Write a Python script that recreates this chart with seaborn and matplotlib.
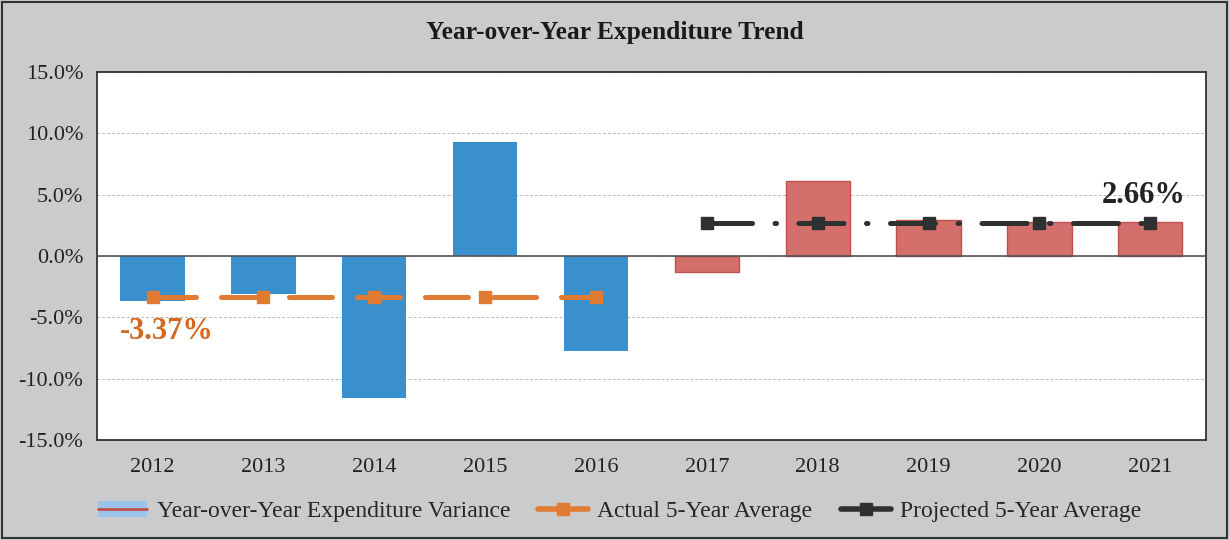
import matplotlib
matplotlib.use("Agg")
import matplotlib.pyplot as plt
import seaborn as sns
import pandas as pd
from matplotlib.patches import Patch
from matplotlib.lines import Line2D
from matplotlib.legend_handler import HandlerTuple
from matplotlib.ticker import FuncFormatter, MultipleLocator

years = ["2012", "2013", "2014", "2015", "2016", "2017", "2018", "2019", "2020", "2021"]
variance = [-3.7, -3.1, -11.6, 9.3, -7.75, -1.3, 6.1, 2.9, 2.8, 2.8]
period = ["Actual"] * 5 + ["Projected"] * 5
actual_avg = -3.37
projected_avg = 2.66

df = pd.DataFrame({"year": years, "variance": variance, "period": period})

sns.set_theme(style="white")
plt.rcParams["font.family"] = ["Liberation Serif", "DejaVu Serif"]

fig = plt.figure(figsize=(12.29, 5.40), dpi=100, facecolor="#c9cbcd")
ax = fig.add_axes([0.079, 0.185, 0.902, 0.682])
ax.set_facecolor("white")

blue, red = "#3a8fcd", "#d46f6c"
sns.barplot(data=df, x="year", y="variance", hue="period",
            palette={"Actual": blue, "Projected": red}, saturation=1,
            width=0.58, dodge=False, legend=False, ax=ax, linewidth=0)
for bar in ax.patches:
    if bar.get_facecolor()[0] > 0.5:
        bar.set_edgecolor("#c0504d")
        bar.set_linewidth(1.0)

# five-year averages
pos = {y: i for i, y in enumerate(years)}
act_x = [pos[y] for y in years[:5]]
proj_x = [pos[y] for y in years[5:]]
orange, dark = "#e07b33", "#2e3130"
ax.plot(act_x, [actual_avg] * 5, color=orange, lw=3.6, marker="s", ms=8,
        dashes=(8.6, 5), dash_capstyle="round", zorder=4)
ax.plot(proj_x, [projected_avg] * 5, color=dark, lw=3.6, marker="s", ms=8,
        dashes=(9, 4.5, 0.3, 4.5), dash_capstyle="round", zorder=4)

ax.text(act_x[0] + 0.13, actual_avg - 2.75, f"{actual_avg:.2f}%", color="#d2691e",
        fontsize=22, fontweight="bold", ha="center", va="center")
ax.text(proj_x[-1] - 0.06, projected_avg + 2.3, f"{projected_avg:.2f}%", color="#222222",
        fontsize=22, fontweight="bold", ha="center", va="center")

ax.set_xlim(-0.5, len(years) - 0.5)
ax.set_ylim(-15, 15)
ax.yaxis.set_major_locator(MultipleLocator(5))
ax.yaxis.set_major_formatter(FuncFormatter(lambda v, _: f"{v:.1f}%"))
ax.grid(axis="y", color="#bbbbbb", linestyle=(0, (3, 2)), linewidth=0.7)
ax.axhline(0, color="#555555", linewidth=1.2, zorder=3)
ax.set_xlabel("")
ax.set_ylabel("")
ax.tick_params(axis="both", labelsize=16, colors="#222222", length=0)
ax.tick_params(axis="y", pad=10)
ax.tick_params(axis="x", pad=13)
for s in ax.spines.values():
    s.set_color("#333333")
    s.set_linewidth(1.3)

fig.text(0.5, 0.94, "Year-over-Year Expenditure Trend", ha="center", va="center",
         fontsize=18.4, fontweight="bold", color="#1a1a1a")

handles = [
    (Patch(facecolor="#9cc3ea", edgecolor="none"), Line2D([], [], color="#c0504d", lw=2)),
    Line2D([], [], color=orange, lw=4, marker="s", ms=9),
    Line2D([], [], color=dark, lw=4, marker="s", ms=9),
]
labels = ["Year-over-Year Expenditure Variance", "Actual 5-Year Average", "Projected 5-Year Average"]
fig.legend(handles, labels, loc="center", bbox_to_anchor=(0.504, 0.053), ncol=3, frameon=False,
           fontsize=17, handlelength=2.1, handletextpad=0.4, columnspacing=1.2,
           handler_map={tuple: HandlerTuple(ndivide=1, pad=0)})

# outer border
fig.patches.append(plt.Rectangle((0.002, 0.004), 0.996, 0.992, transform=fig.transFigure,
                                 fill=False, edgecolor="#333333", linewidth=1.5))

fig.savefig("out.png", dpi=100, facecolor=fig.get_facecolor())
